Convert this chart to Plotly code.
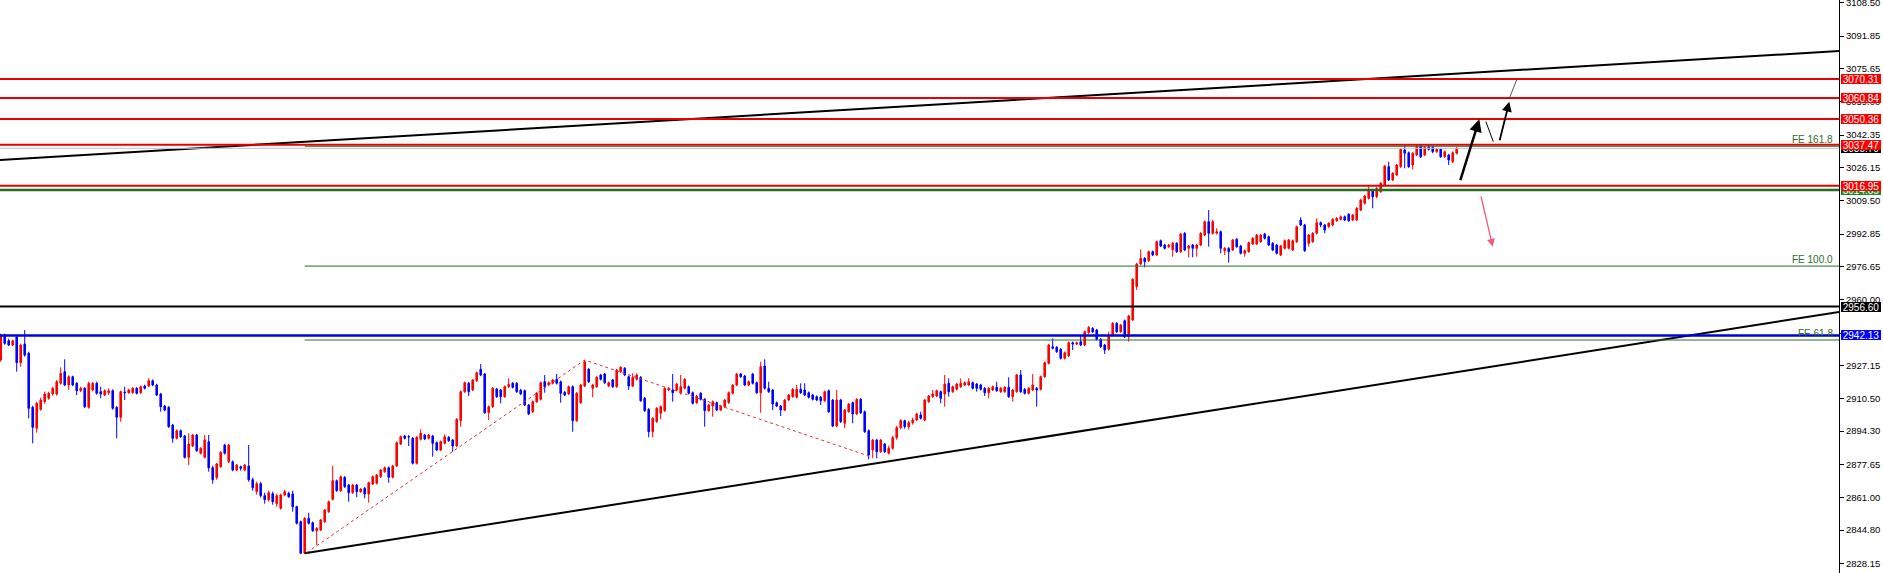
import plotly.graph_objects as go

# ---------------- candle data (one value per bar, bar index 0..364) ----------------
opens = [
    2929.85, 2942.35, 2939.5, 2937.35, 2941.5, 2928.5, 2937.85, 2933.2, 2906.2, 2895.7,
    2905.2, 2909, 2910.7, 2912.85, 2912.85, 2918.2, 2924, 2917.35, 2921.5, 2918.2,
    2914.5, 2915.7, 2906.2, 2914.85, 2918.2, 2914, 2912.35, 2913.5, 2914.5, 2906.2,
    2901.2, 2913.8, 2913.5, 2913.5, 2915.7, 2913.5, 2916.85, 2916.85, 2919.5, 2917.35,
    2912.85, 2906.85, 2906.2, 2897.35, 2890.7, 2894.5, 2891.85, 2881.2, 2886.85, 2892.35,
    2883.2, 2881.2, 2889, 2876, 2871, 2876.5, 2887.35, 2879, 2879, 2874.85,
    2876.5, 2874.85, 2876.85, 2870, 2864, 2868, 2862, 2860, 2863, 2858,
    2855.7, 2862.35, 2863.2, 2862.85, 2856.5, 2849, 2833.2, 2850.7, 2848.5, 2844.5,
    2844.85, 2849, 2854, 2860.2, 2869.5, 2864.5, 2871.2, 2867.35, 2863.5, 2867.35,
    2864, 2865.7, 2862.85, 2867.85, 2868.2, 2871.5, 2874, 2876, 2871.2, 2876.85,
    2887.85, 2891.85, 2891.6, 2890.7, 2878.2, 2890.2, 2892.35, 2890.7, 2891.85, 2888.5,
    2884.85, 2888.2, 2891.2, 2889.85, 2886.85, 2899.5, 2914, 2918.2, 2914.85, 2919.5,
    2925.2, 2922.85, 2903.5, 2906.5, 2915.35, 2914.85, 2911.5, 2916.5, 2918.2, 2918.2,
    2914.85, 2914.5, 2907.35, 2904, 2909, 2910.2, 2919, 2917.35, 2918.2, 2920.2,
    2919, 2913.7, 2912.85, 2916.5, 2899.5, 2908.5, 2916.85, 2925.2, 2915.7, 2916.5,
    2922.35, 2922.85, 2916.85, 2919.85, 2916.5, 2924, 2925.7, 2921.5, 2916.85, 2920.2,
    2921.2, 2910.7, 2905.2, 2894, 2899, 2903.2, 2904.5, 2914.85, 2914.85, 2914.85,
    2913.2, 2915.7, 2916.5, 2913.5, 2908.5, 2913.2, 2910.2, 2904.5, 2906.85, 2908.5,
    2904.85, 2906.5, 2908.5, 2913.2, 2917.35, 2922.85, 2921.85, 2917.35, 2922.85, 2918.5,
    2913.5, 2926.85, 2915.7, 2914.85, 2908.5, 2906.85, 2904.85, 2909.85, 2911.5, 2911.2,
    2915.2, 2914.85, 2913.5, 2912.35, 2911.5, 2911.2, 2909.5, 2914.5, 2909.85, 2896.85,
    2909.85, 2898.2, 2904, 2908.5, 2902.85, 2910.2, 2904, 2894.5, 2884.85, 2889.85,
    2884, 2887.85, 2883.2, 2885.7, 2891, 2896, 2899.5, 2896.5, 2898.5, 2899.85,
    2902.35, 2899.85, 2909, 2911.5, 2911.85, 2914, 2912.85, 2918.2, 2914, 2915.2,
    2916.5, 2917.35, 2917.35, 2918.5, 2917.85, 2917.35, 2915.7, 2913.5, 2914.85, 2916.2,
    2914, 2914, 2916.2, 2911.5, 2914, 2922.35, 2915.2, 2913.2, 2914.85, 2915.7,
    2915.2, 2921.5, 2928.2, 2936.5, 2936.2, 2935.2, 2930.7, 2931.85, 2938.5, 2937.85,
    2939, 2937.35, 2943.5, 2945.7, 2944.85, 2940.2, 2937.35, 2935.2, 2942.35, 2948.2,
    2944, 2949.5, 2941.5, 2949.85, 2966.5, 2977.85, 2980.7, 2979.5, 2984, 2982.35,
    2989.5, 2987.35, 2986.5, 2985, 2988.2, 2984, 2993.2, 2985.7, 2987.35, 2985.7,
    2987.35, 2992.35, 2999, 2993.2, 2993.2, 2994, 2984.5, 2985.7, 2984.85, 2990.2,
    2986.85, 2983.2, 2984, 2987.85, 2987.85, 2989, 2992.85, 2991.5, 2988.2, 2987.35,
    2982.35, 2985.7, 2985.7, 2984.85, 2989, 2999.85, 2997.35, 2988.2, 2989, 2993.2,
    2998.5, 2997.35, 2996.5, 2997.35, 2999.5, 3000.2, 3001.5, 3002.7, 2999.85, 2999.85,
    3004.85, 3008.2, 3010.7, 3014.85, 3011.5, 3014, 3017.35, 3026.5, 3019.85, 3022.35,
    3026.5, 3034.85, 3033.5, 3027.35, 3032.35, 3036.85, 3032.35, 3036.2, 3036.2, 3034,
    3035.2, 3031.5, 3032.35, 3029, 3033.2,
]
highs = [
    2943, 2943, 2940.5, 2940, 2942.5, 2938, 2944.85, 2934, 2907, 2909,
    2911, 2914, 2914, 2916.5, 2919.8, 2926.2, 2930.2, 2922.2, 2922, 2918.8,
    2916.5, 2916.3, 2919, 2918.8, 2919, 2916.5, 2915.2, 2915.7, 2915.2, 2906.8,
    2914.6, 2916.5, 2915.5, 2916.3, 2916.3, 2917.1, 2917.5, 2920.7, 2920.1, 2918,
    2913.4, 2907.4, 2906.8, 2897.9, 2895.1, 2895.1, 2892.4, 2893.2, 2892.9, 2892.9,
    2886.3, 2892.35, 2892.35, 2877, 2878.4, 2884.3, 2887.9, 2887.9, 2879.6, 2877.9,
    2877, 2877.9, 2887.35, 2871, 2869, 2869, 2863.5, 2864.5, 2864, 2863,
    2863, 2865, 2864, 2864.5, 2857, 2849.6, 2851.3, 2853.5, 2849.1, 2846.3,
    2850.4, 2855.4, 2859.6, 2876.85, 2870.1, 2872.1, 2871.8, 2867.9, 2867.9, 2867.9,
    2865.9, 2866.3, 2869.1, 2872.1, 2872.9, 2875.4, 2876.6, 2876.6, 2877.4, 2889.1,
    2892.1, 2892.4, 2892.35, 2891.3, 2891.8, 2895.2, 2892.9, 2892.9, 2892.4, 2889.1,
    2889.6, 2892.7, 2891.8, 2890.4, 2900.8, 2914.6, 2919.1, 2918.8, 2920.4, 2924.1,
    2927.85, 2923.4, 2907.1, 2916.3, 2915.9, 2915.4, 2917.1, 2920.7, 2918.8, 2918.8,
    2915.4, 2915.1, 2907.9, 2909.6, 2913.8, 2919.1, 2922.35, 2919.1, 2920.4, 2922.85,
    2919.6, 2914.3, 2917.1, 2917.1, 2913.8, 2917.9, 2929.85, 2925.8, 2917.9, 2921.8,
    2922.9, 2923.4, 2919.1, 2920.4, 2925.4, 2926.8, 2926.3, 2922.1, 2923.2, 2923.2,
    2921.8, 2911.3, 2905.8, 2901.3, 2906.3, 2907.1, 2916.3, 2916.3, 2922.85, 2918.4,
    2922.35, 2920.8, 2917.1, 2914.1, 2912.4, 2913.8, 2910.8, 2907.9, 2909.6, 2909.1,
    2907.4, 2910.4, 2914.1, 2917.9, 2923.4, 2923.4, 2922.4, 2919.6, 2923.4, 2919.1,
    2929, 2930.2, 2919, 2915.4, 2909.1, 2907.4, 2910.4, 2912.9, 2915.8, 2917.35,
    2918.2, 2918.2, 2914.1, 2912.9, 2912.1, 2911.8, 2914.6, 2915.1, 2910.4, 2914.85,
    2910.4, 2905.4, 2908.4, 2909.1, 2910.8, 2910.8, 2904.6, 2895.1, 2890.4, 2890.4,
    2890.4, 2888.4, 2887, 2892, 2897, 2900.3, 2900, 2899.5, 2901, 2903.5,
    2904, 2910.4, 2912.4, 2914.85, 2915.1, 2914.6, 2922.35, 2920.7, 2917.1, 2918.4,
    2920.7, 2919.1, 2920.7, 2919.1, 2918.4, 2917.9, 2916.3, 2916.3, 2917.1, 2919,
    2916.3, 2916.8, 2921.2, 2915.4, 2922.9, 2924.85, 2915.8, 2916.3, 2922.85, 2916.3,
    2922.1, 2929.1, 2937.9, 2940.7, 2936.8, 2935.8, 2934.1, 2939.1, 2939.1, 2939.1,
    2941.85, 2944.6, 2946.8, 2946.3, 2945.4, 2940.8, 2937.9, 2944, 2948.8, 2948.8,
    2947.9, 2950.1, 2952.4, 2970.8, 2978.4, 2985.2, 2981.3, 2984.6, 2984.6, 2989.6,
    2990.1, 2987.9, 2987.9, 2989, 2988.8, 2993.4, 2993.8, 2987.4, 2987.9, 2987.9,
    2993.8, 2999.6, 3004.85, 2999.85, 2995.7, 2994.6, 2986.3, 2986.3, 2990.4, 2990.8,
    2987.4, 2985.1, 2989.1, 2991.3, 2992.9, 2992.9, 2993.4, 2992.1, 2988.8, 2987.9,
    2987.4, 2990.1, 2990.4, 2990.1, 2997.1, 3001.2, 2997.9, 2992.9, 2993.8, 3000.7,
    2999.1, 2997.9, 2998.8, 3000.8, 3001.3, 3002.1, 3002.1, 3003.3, 3002.9, 3006.3,
    3010.4, 3012.4, 3016.85, 3015.4, 3016.3, 3018.8, 3027.4, 3029, 3023.8, 3027.9,
    3035.8, 3037.35, 3034.1, 3033.8, 3037.4, 3037.35, 3036.8, 3037.35, 3036.8, 3035.8,
    3035.8, 3034.6, 3032.9, 3034.1, 3036.3,
]
lows = [
    2929, 2937.5, 2936.8, 2936.8, 2924, 2926.5, 2931.5, 2900.7, 2888.2, 2893.5,
    2904.5, 2908, 2910, 2912, 2912, 2917.5, 2916.8, 2914.85, 2916.8, 2912.35,
    2913.8, 2905.8, 2905.5, 2914.2, 2912.5, 2910.7, 2911.8, 2912.35, 2905, 2890.7,
    2899, 2909.85, 2912.9, 2913, 2912.6, 2912.9, 2915.1, 2916.3, 2916.8, 2911.8,
    2904, 2904.2, 2895.9, 2888.5, 2890.1, 2890.9, 2880.6, 2877.35, 2886.3, 2883.9,
    2882.6, 2880.6, 2874, 2868, 2870, 2875.9, 2882.6, 2878.4, 2874.2, 2874.2,
    2874.5, 2874.2, 2869, 2864.5, 2862.5, 2861, 2858, 2859, 2857.5, 2856.5,
    2855, 2861.8, 2860.9, 2854, 2847.6, 2833.0, 2833.2, 2847.6, 2843.9, 2837.35,
    2844.3, 2848.4, 2853.4, 2859.6, 2863.9, 2863.9, 2865.9, 2859, 2862.9, 2861.2,
    2863.4, 2860.7, 2858.5, 2867.3, 2867.6, 2870.9, 2873.4, 2868.5, 2870.6, 2876.3,
    2887.3, 2890.1, 2886.85, 2877.6, 2877.6, 2889.6, 2889.8, 2890.1, 2881.5, 2884.3,
    2884.3, 2887.6, 2888.9, 2884, 2886.3, 2896.5, 2913.4, 2911.85, 2914.3, 2918.9,
    2921.8, 2902.9, 2899.85, 2905.9, 2910.9, 2908.2, 2910.9, 2915.9, 2915.6, 2913.4,
    2912.3, 2906.8, 2902.3, 2903.4, 2908.4, 2909.6, 2913.5, 2916.8, 2917.6, 2917.6,
    2908.5, 2911.8, 2912.3, 2894, 2898.9, 2907.9, 2916.3, 2918.4, 2911.2, 2915.9,
    2919.6, 2917.9, 2916.3, 2915.9, 2915.9, 2923.4, 2921.8, 2914.85, 2916.3, 2919.6,
    2908.9, 2903.9, 2891.2, 2891.2, 2898.4, 2900.2, 2903.9, 2914.3, 2909, 2914.3,
    2912.6, 2915.1, 2912.6, 2907.6, 2907.9, 2909.6, 2896.5, 2903.9, 2901.5, 2904.3,
    2904.3, 2905.9, 2907.9, 2912.6, 2916.8, 2920.9, 2916.8, 2916.8, 2917.6, 2912.9,
    2903.5, 2915.1, 2913.4, 2904.85, 2906.3, 2901.85, 2904.3, 2909.3, 2910.9, 2910.6,
    2912.9, 2911.8, 2910.6, 2909.6, 2909.3, 2907.35, 2908.9, 2903.4, 2896.3, 2896.3,
    2898.4, 2895.7, 2903.4, 2898.2, 2902.3, 2902.9, 2893.4, 2880.2, 2880.7, 2880.7,
    2883.4, 2883.4, 2882.6, 2885, 2890, 2895.2, 2895.5, 2895, 2897.5, 2899.2,
    2900.1, 2899.2, 2908.4, 2910.9, 2911.3, 2908.2, 2906.5, 2911.5, 2913.4, 2914.6,
    2915.9, 2916.8, 2916.8, 2915.1, 2914, 2914.6, 2911.85, 2910.7, 2914.3, 2913.9,
    2913.4, 2913.4, 2910.9, 2909, 2913.4, 2913.4, 2912.6, 2912.6, 2914.3, 2906.5,
    2914.6, 2920.9, 2927.6, 2935.1, 2933.4, 2930.1, 2930.1, 2931.3, 2934.85, 2937.3,
    2936.8, 2936.8, 2942.9, 2943.4, 2939.6, 2935.9, 2932.85, 2934.6, 2941.8, 2943.4,
    2943.4, 2940.9, 2939, 2949.3, 2964.85, 2977.3, 2976.2, 2978.9, 2981.8, 2981.8,
    2986.3, 2985.1, 2985.9, 2981.5, 2983.4, 2983.4, 2984.3, 2981.2, 2981.2, 2981.5,
    2986.8, 2991.8, 2986.5, 2992.6, 2992.6, 2983.2, 2982.35, 2978.5, 2984.3, 2985.9,
    2982.6, 2981.5, 2983.4, 2987.3, 2987.3, 2988.4, 2990.1, 2986.8, 2984.3, 2982.6,
    2981.8, 2985.1, 2985.1, 2984.3, 2988.4, 2996.8, 2983.9, 2986.5, 2988.4, 2992.6,
    2996.2, 2993.2, 2995.9, 2996.8, 2998.9, 2999.6, 2999.3, 2998.9, 2999.3, 2999.3,
    3004.3, 3007.6, 3010.1, 3005.7, 3010.7, 3013.4, 3016.8, 3019.3, 3019.3, 3021.8,
    3025.9, 3025.7, 3025.9, 3025.2, 3031.8, 3030.9, 3031.8, 3034.6, 3033.2, 3033.4,
    3030.9, 3030.9, 3027.35, 3028.4, 3032.6,
]
closes = [
    2942.35, 2938.2, 2937.35, 2939.5, 2928.5, 2937.35, 2932.35, 2905.7, 2896.2, 2908.2,
    2909.85, 2912.85, 2913.2, 2915.7, 2919, 2923.2, 2917.35, 2921.5, 2917.35, 2914.5,
    2915.7, 2906.5, 2918.2, 2918.2, 2913.2, 2912.85, 2914.5, 2914.5, 2905.7, 2901.2,
    2914, 2913.5, 2914.85, 2915.7, 2913.2, 2916.5, 2915.7, 2919.5, 2917.35, 2912.35,
    2906.5, 2904.85, 2896.5, 2890.7, 2894.5, 2891.5, 2881.2, 2887.85, 2892.35, 2884.5,
    2885.7, 2889.85, 2876, 2870, 2877.85, 2883.7, 2883.2, 2887.35, 2874.85, 2877.35,
    2875.7, 2877.35, 2870, 2866, 2868, 2862, 2860, 2863.5, 2859, 2862,
    2862.35, 2864, 2861.5, 2856.5, 2848.2, 2833.2, 2850.7, 2848.2, 2844.5, 2845.7,
    2849.85, 2854.85, 2859, 2869.5, 2864.5, 2871.5, 2866.5, 2863.5, 2867.35, 2864,
    2865.35, 2862.85, 2868.5, 2871.5, 2872.35, 2874.85, 2876, 2871.2, 2876.85, 2888.5,
    2891.5, 2890.7, 2891.4, 2878.2, 2891.2, 2893.2, 2890.35, 2892.35, 2888.2, 2884.85,
    2889, 2891.5, 2889.5, 2886.85, 2900.2, 2914, 2918.5, 2914, 2919.85, 2923.5,
    2922.35, 2903.5, 2906.5, 2915.7, 2911.5, 2911.5, 2916.5, 2917.7, 2916.2, 2914,
    2912.85, 2907.35, 2902.85, 2909, 2913.2, 2918.5, 2916.5, 2918.5, 2919.85, 2918.2,
    2913.2, 2912.35, 2916.5, 2899.5, 2913.2, 2917.35, 2929, 2919, 2917.35, 2921.2,
    2920.2, 2918.5, 2918.5, 2916.5, 2924.85, 2926.2, 2922.35, 2916.85, 2921.2, 2922.35,
    2909.5, 2904.5, 2894, 2900.7, 2905.7, 2906.5, 2915.7, 2915.7, 2913.5, 2917.85,
    2916.5, 2920.2, 2913.2, 2908.2, 2911.85, 2910.2, 2904.5, 2907.35, 2909, 2904.85,
    2906.85, 2909.85, 2913.5, 2917.35, 2922.85, 2921.5, 2917.35, 2919, 2918.2, 2913.5,
    2926.5, 2915.7, 2914, 2907.85, 2906.85, 2904.85, 2909.85, 2912.35, 2915.2, 2915.2,
    2913.5, 2912.35, 2911.2, 2910.2, 2909.85, 2909.5, 2914, 2904, 2896.85, 2909.85,
    2899, 2904.85, 2907.85, 2902.85, 2910.2, 2903.5, 2894, 2882.35, 2889.85, 2884,
    2889.85, 2884, 2885.7, 2891, 2896, 2899.5, 2896.5, 2898.5, 2899.85, 2902.85,
    2900.7, 2909.85, 2911.85, 2912.85, 2914.5, 2910.7, 2917.85, 2914, 2916.5, 2917.85,
    2918.2, 2918.5, 2919, 2915.7, 2915.7, 2915.2, 2913.5, 2915.7, 2916.5, 2914.5,
    2915.7, 2916.2, 2911.5, 2914.85, 2922.35, 2914, 2913.2, 2915.7, 2917.35, 2914.85,
    2921.5, 2928.5, 2937.35, 2935.7, 2934, 2930.7, 2933.5, 2938.5, 2937.85, 2938.5,
    2937.35, 2944, 2946.2, 2944, 2940.2, 2936.5, 2934.85, 2941.5, 2948.2, 2944,
    2947.35, 2941.5, 2951.85, 2970.2, 2977.85, 2980.7, 2979, 2984, 2982.35, 2989,
    2986.85, 2985.7, 2987.35, 2988.2, 2984, 2992.85, 2984.85, 2986.85, 2985.7, 2987.35,
    2993.2, 2999, 2993.2, 2999, 2994, 2985.7, 2985.7, 2984, 2989.85, 2986.5,
    2983.2, 2984.5, 2988.5, 2990.7, 2992.35, 2992.35, 2990.7, 2987.35, 2984.85, 2983.2,
    2986.85, 2989.5, 2989.85, 2989.5, 2996.5, 2997.35, 2984.5, 2992.35, 2993.2, 2998.5,
    2997.35, 2994.85, 2998.2, 3000.2, 3000.7, 3001.5, 2999.85, 2999.5, 3002.35, 3005.7,
    3009.85, 3011.85, 3014.85, 3011.5, 3015.7, 3018.2, 3026.85, 3019.85, 3023.2, 3027.35,
    3035.2, 3033.2, 3026.5, 3033.2, 3036.85, 3031.5, 3036.2, 3035.2, 3034, 3035.2,
    3031.5, 3034, 3029.85, 3033.5, 3035.7,
]
bar_index = list(range(len(closes)))

# ---------------- axis ----------------
price_ticks = [3108.50, 3091.85, 3075.65, 3059.00, 3042.35, 3026.15, 3009.50, 2992.85,
               2976.65, 2960.00, 2943.35, 2927.15, 2910.50, 2894.30, 2877.65, 2861.00,
               2844.80, 2828.15]
price_range = [2823.35, 3109.85]
bar_range = [-0.175, 459.575]

# ---------------- horizontal levels ----------------
red_levels = [3070.31, 3060.84, 3050.36, 3037.47, 3016.95]
green_level = 3014.85
bid_price = 3035.70
black_level = 2956.60
blue_level = 2942.13
fe_names = ["FE 161.8", "FE 100.0", "FE 61.8"]
fe_levels = [3036.70, 2976.80, 2939.85]
fe_start_bar = 76

# ---------------- trend lines / drawings ----------------
upper_trend_x = [-0.175, 459.575]
upper_trend_y = [3029.9, 3084.3]
lower_trend_x = [76, 459.575]
lower_trend_y = [2833.2, 2953.9]
zigzag_x = [76.5, 146, 217]
zigzag_y = [2833.5, 2929.85, 2881.85]

# arrows: (tail_x, tail_y, head_x, head_y)
black_arrow_1 = (364.8, 3019.0, 369.65, 3050.2)
black_arrow_2 = (374.65, 3039.0, 377.15, 3059.0)
pink_arrow = (370.0, 3012.35, 373.0, 2986.5)
thin_seg_x = [371.3, 373.15]
thin_seg_y = [3049.0, 3039.0]
gray_seg_x = [377.15, 379.15]
gray_seg_y = [3060.7, 3070.7]

RED = "#ff0000"
BLUE = "#0000ff"
FE_GREEN = "#2a6e2a"
FONT = "Liberation Sans, Arial, sans-serif"

fig = go.Figure()

fig.add_trace(go.Candlestick(
    x=bar_index, open=opens, high=highs, low=lows, close=closes,
    increasing=dict(line=dict(color=RED, width=1), fillcolor=RED),
    decreasing=dict(line=dict(color=BLUE, width=1), fillcolor=BLUE),
    whiskerwidth=0, hoverinfo="skip", showlegend=False,
))

# trend lines
fig.add_trace(go.Scatter(x=upper_trend_x, y=upper_trend_y, mode="lines",
                         line=dict(color="black", width=2), hoverinfo="skip", showlegend=False))
fig.add_trace(go.Scatter(x=lower_trend_x, y=lower_trend_y, mode="lines",
                         line=dict(color="black", width=2), hoverinfo="skip", showlegend=False))
fig.add_trace(go.Scatter(x=zigzag_x, y=zigzag_y, mode="lines",
                         line=dict(color="#e03030", width=1, dash="3px,3px"),
                         hoverinfo="skip", showlegend=False))
fig.add_trace(go.Scatter(x=thin_seg_x, y=thin_seg_y, mode="lines",
                         line=dict(color="black", width=1), hoverinfo="skip", showlegend=False))
fig.add_trace(go.Scatter(x=gray_seg_x, y=gray_seg_y, mode="lines",
                         line=dict(color="#555555", width=1), hoverinfo="skip", showlegend=False))

shapes = []
annotations = []

# full-width horizontal lines
def hline(y, color, width):
    shapes.append(dict(type="line", xref="paper", x0=0, x1=1, yref="y", y0=y, y1=y,
                       line=dict(color=color, width=width)))

hline(bid_price, "#c0c0c0", 1)
for lv in red_levels:
    hline(lv, "#e80000", 2)
hline(green_level, "#1f6f1f", 2.5)
hline(black_level, "black", 2)
hline(blue_level, "#0000e0", 2.5)

# Fibonacci expansion lines and labels
for name, lv in zip(fe_names, fe_levels):
    shapes.append(dict(type="line", xref="x", x0=fe_start_bar, x1=bar_range[1], yref="y",
                       y0=lv, y1=lv, line=dict(color=FE_GREEN, width=1)))
    annotations.append(dict(xref="paper", x=1835 / 1839, xanchor="right", yref="y", y=lv,
                            yanchor="bottom", yshift=-1, text=name, showarrow=False,
                            font=dict(family=FONT, size=10, color=FE_GREEN)))

# price labels on the right axis (later labels cover earlier ones)
def price_label(y, bg, txt_color="white"):
    annotations.append(dict(xref="paper", x=1841 / 1839, xanchor="left",
                            yref="y", y=y, yanchor="middle", text=f"{y:.2f}",
                            showarrow=False, bgcolor=bg, borderpad=0, borderwidth=0,
                            width=40, height=10, align="center",
                            font=dict(family=FONT, size=10, color=txt_color)))

price_label(bid_price, "black")
price_label(green_level, "#1f8a1f")
for lv in red_levels:
    price_label(lv, RED)
price_label(black_level, "black")
price_label(blue_level, BLUE)

# arrows
def arrow(spec, color, width, size):
    tx, ty, hx, hy = spec
    annotations.append(dict(x=hx, y=hy, ax=tx, ay=ty, xref="x", yref="y", axref="x", ayref="y",
                            text="", showarrow=True, arrowhead=2, arrowsize=size,
                            arrowwidth=width, arrowcolor=color, standoff=0, startstandoff=0))

arrow(black_arrow_1, "black", 2.5, 1.0)
arrow(black_arrow_2, "black", 1.8, 1.1)
arrow(pink_arrow, "#f05a78", 1.3, 1.2)

fig.update_layout(
    width=1883, height=573,
    margin=dict(l=0, r=44, t=0, b=0, autoexpand=False),
    paper_bgcolor="white", plot_bgcolor="white",
    showlegend=False, boxgap=0.45,
    shapes=shapes, annotations=annotations,
    xaxis=dict(range=bar_range, visible=False, rangeslider=dict(visible=False),
               showgrid=False, zeroline=False, automargin=False),
    yaxis=dict(range=price_range, side="right", tickvals=price_ticks,
               ticktext=[f"{v:.2f}" for v in price_ticks],
               tickfont=dict(family=FONT, size=9.5, color="black"),
               ticks="outside", ticklen=4, tickcolor="black",
               ticklabeloverflow="allow", automargin=False,
               showline=True, linecolor="black", linewidth=1,
               showgrid=False, zeroline=False),
)

fig.write_html("out.html", config={"displayModeBar": False},
               post_script="document.body.style.margin='0';")
